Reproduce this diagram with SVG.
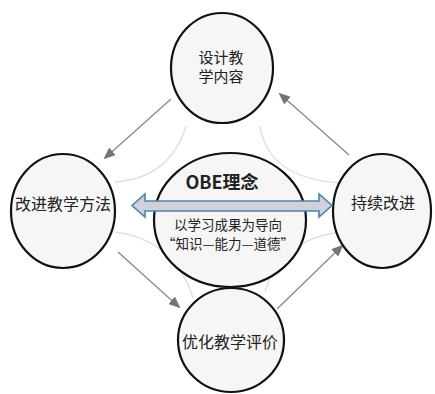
<svg xmlns="http://www.w3.org/2000/svg" width="435" height="394" viewBox="0 0 435 394">
<defs>
<style>
.node{fill:#f6f6f6;stroke:#111;stroke-width:2.2}
.lbl{font-family:"Noto Sans CJK SC","Noto Sans",sans-serif;fill:#222;text-anchor:middle}
.arc{fill:none;stroke:#e0e0e0;stroke-width:1.5}
.flow{stroke:#8c8c8c;stroke-width:1.4;fill:none;marker-end:url(#ah)}
</style>
<marker id="ah" markerWidth="12" markerHeight="10" refX="10" refY="5" orient="auto" markerUnits="userSpaceOnUse">
<path d="M0,0 L12,5 L0,10 z" fill="#6f777d"/>
</marker>
</defs>
<rect width="435" height="394" fill="#ffffff"/>
<g id="connectors">
<path class="arc" d="M186,126 Q170,178 115,182"/>
<path class="arc" d="M260,126 Q268,178 340,183"/>
<path class="arc" d="M115,232 Q175,240 193,298"/>
<path class="arc" d="M340,232 Q280,240 265,292"/>
<line class="flow" x1="171" y1="99" x2="105" y2="158"/>
<line class="flow" x1="349" y1="155" x2="280" y2="94"/>
<line class="flow" x1="118" y1="252" x2="179" y2="307"/>
<line class="flow" x1="277" y1="309" x2="342" y2="246"/>
</g>
<g id="n-top">
<ellipse class="node" cx="222" cy="68" rx="51" ry="55"/>
<text class="lbl" x="221" y="63" font-size="15">设计教</text>
<text class="lbl" x="221" y="82" font-size="15">学内容</text>
</g>
<g id="n-left">
<ellipse class="node" cx="63" cy="211" rx="52" ry="57"/>
<text class="lbl" x="63" y="210" font-size="16">改进教学方法</text>
</g>
<g id="n-right">
<ellipse class="node" cx="382" cy="211" rx="49" ry="57"/>
<text class="lbl" x="383" y="209" font-size="16">持续改进</text>
</g>
<g id="n-bottom">
<ellipse class="node" cx="231" cy="340" rx="53" ry="52"/>
<text class="lbl" x="230" y="348" font-size="16">优化教学评价</text>
</g>
<g id="n-center">
<ellipse class="node" cx="230" cy="220" rx="76" ry="67" fill="#ffffff"/>
<path d="M132,205.5 L145,194 L145,201 L319,201 L319,194 L332,205.5 L319,217 L319,211 L145,211 L145,217 Z" fill="#cfd3d7" stroke="#4d82ad" stroke-width="1.6" stroke-linejoin="miter"/>
<text class="lbl" x="222" y="189" font-size="18" font-weight="bold">OBE理念</text>
<text class="lbl" x="228" y="230" font-size="13.5">以学习成果为导向</text>
<text class="lbl" x="228" y="249" font-size="13.5">“知识—能力—道德”</text>
</g>
</svg>
